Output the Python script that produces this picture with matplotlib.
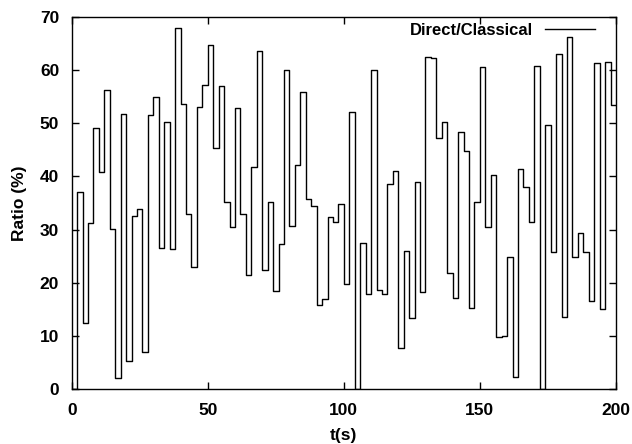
import matplotlib
matplotlib.use("Agg")
import matplotlib.pyplot as plt
import numpy as np

plt.rcParams['font.family'] = ['Liberation Sans', 'DejaVu Sans']
plt.rcParams['font.weight'] = 'bold'

step = 2  # seconds per sample
ratio = [
    0.0, 37.0, 12.4, 31.3, 49.2, 40.9, 56.3, 30.2, 2.0, 51.7,
    5.3, 32.6, 33.8, 6.9, 51.6, 54.9, 26.5, 50.3, 26.3, 68.0,
    53.6, 32.9, 22.9, 53.0, 57.2, 64.8, 45.4, 57.1, 35.1, 30.5,
    52.9, 32.9, 21.5, 41.7, 63.6, 22.4, 35.1, 18.4, 27.2, 60.0,
    30.7, 42.2, 55.8, 35.8, 34.5, 15.9, 16.9, 32.3, 31.4, 34.8,
    19.7, 52.1, 0.0, 27.5, 17.8, 60.0, 18.6, 17.9, 38.5, 41.0,
    7.8, 26.0, 13.4, 39.0, 18.2, 62.5, 62.3, 47.3, 50.3, 21.8,
    17.2, 48.3, 44.8, 15.2, 35.1, 60.5, 30.4, 40.2, 9.7, 10.0,
    24.8, 2.2, 41.4, 38.1, 31.5, 60.7, 0.0, 49.6, 25.7, 63.0,
    13.6, 66.2, 24.9, 29.3, 25.8, 16.6, 61.3, 15.1, 61.6, 53.4,
]
t = np.arange(len(ratio) + 1) * step
y = ratio + [ratio[-1]]

fig = plt.figure(figsize=(6.32, 4.44), dpi=100)
ax = fig.add_axes([71.7 / 632, 1 - 389 / 444, (616 - 71.7) / 632, (389 - 17) / 444])
ax.step(t, y, where='post', color='black', lw=1.0, label='Direct/Classical')

ax.set_xlim(0, 200)
ax.set_ylim(0, 70)
ax.set_xticks([0, 50, 100, 150, 200])
ax.set_yticks(range(0, 71, 10))
ax.tick_params(direction='in', top=True, right=True, length=5, width=1,
               labelsize=12.5)
ax.tick_params(axis='x', pad=10)
ax.tick_params(axis='y', pad=9)
for lab in ax.get_xticklabels() + ax.get_yticklabels():
    lab.set_fontweight('bold')
for s in ax.spines.values():
    s.set_linewidth(1.0)

ax.set_xlabel('t(s)', fontsize=12.5, fontweight='bold', labelpad=7)
ax.set_ylabel('Ratio (%)', fontsize=12.5, fontweight='bold', labelpad=9)

leg = ax.legend(loc='upper right', bbox_to_anchor=((595 - 71.7) / (616 - 71.7), (389 - 23) / 372),
                frameon=False, markerfirst=False, fontsize=12, handlelength=3.0,
                handletextpad=0.7, borderpad=0, borderaxespad=0)
for txt in leg.get_texts():
    txt.set_fontweight('bold')

fig.savefig('out.png', dpi=100)
